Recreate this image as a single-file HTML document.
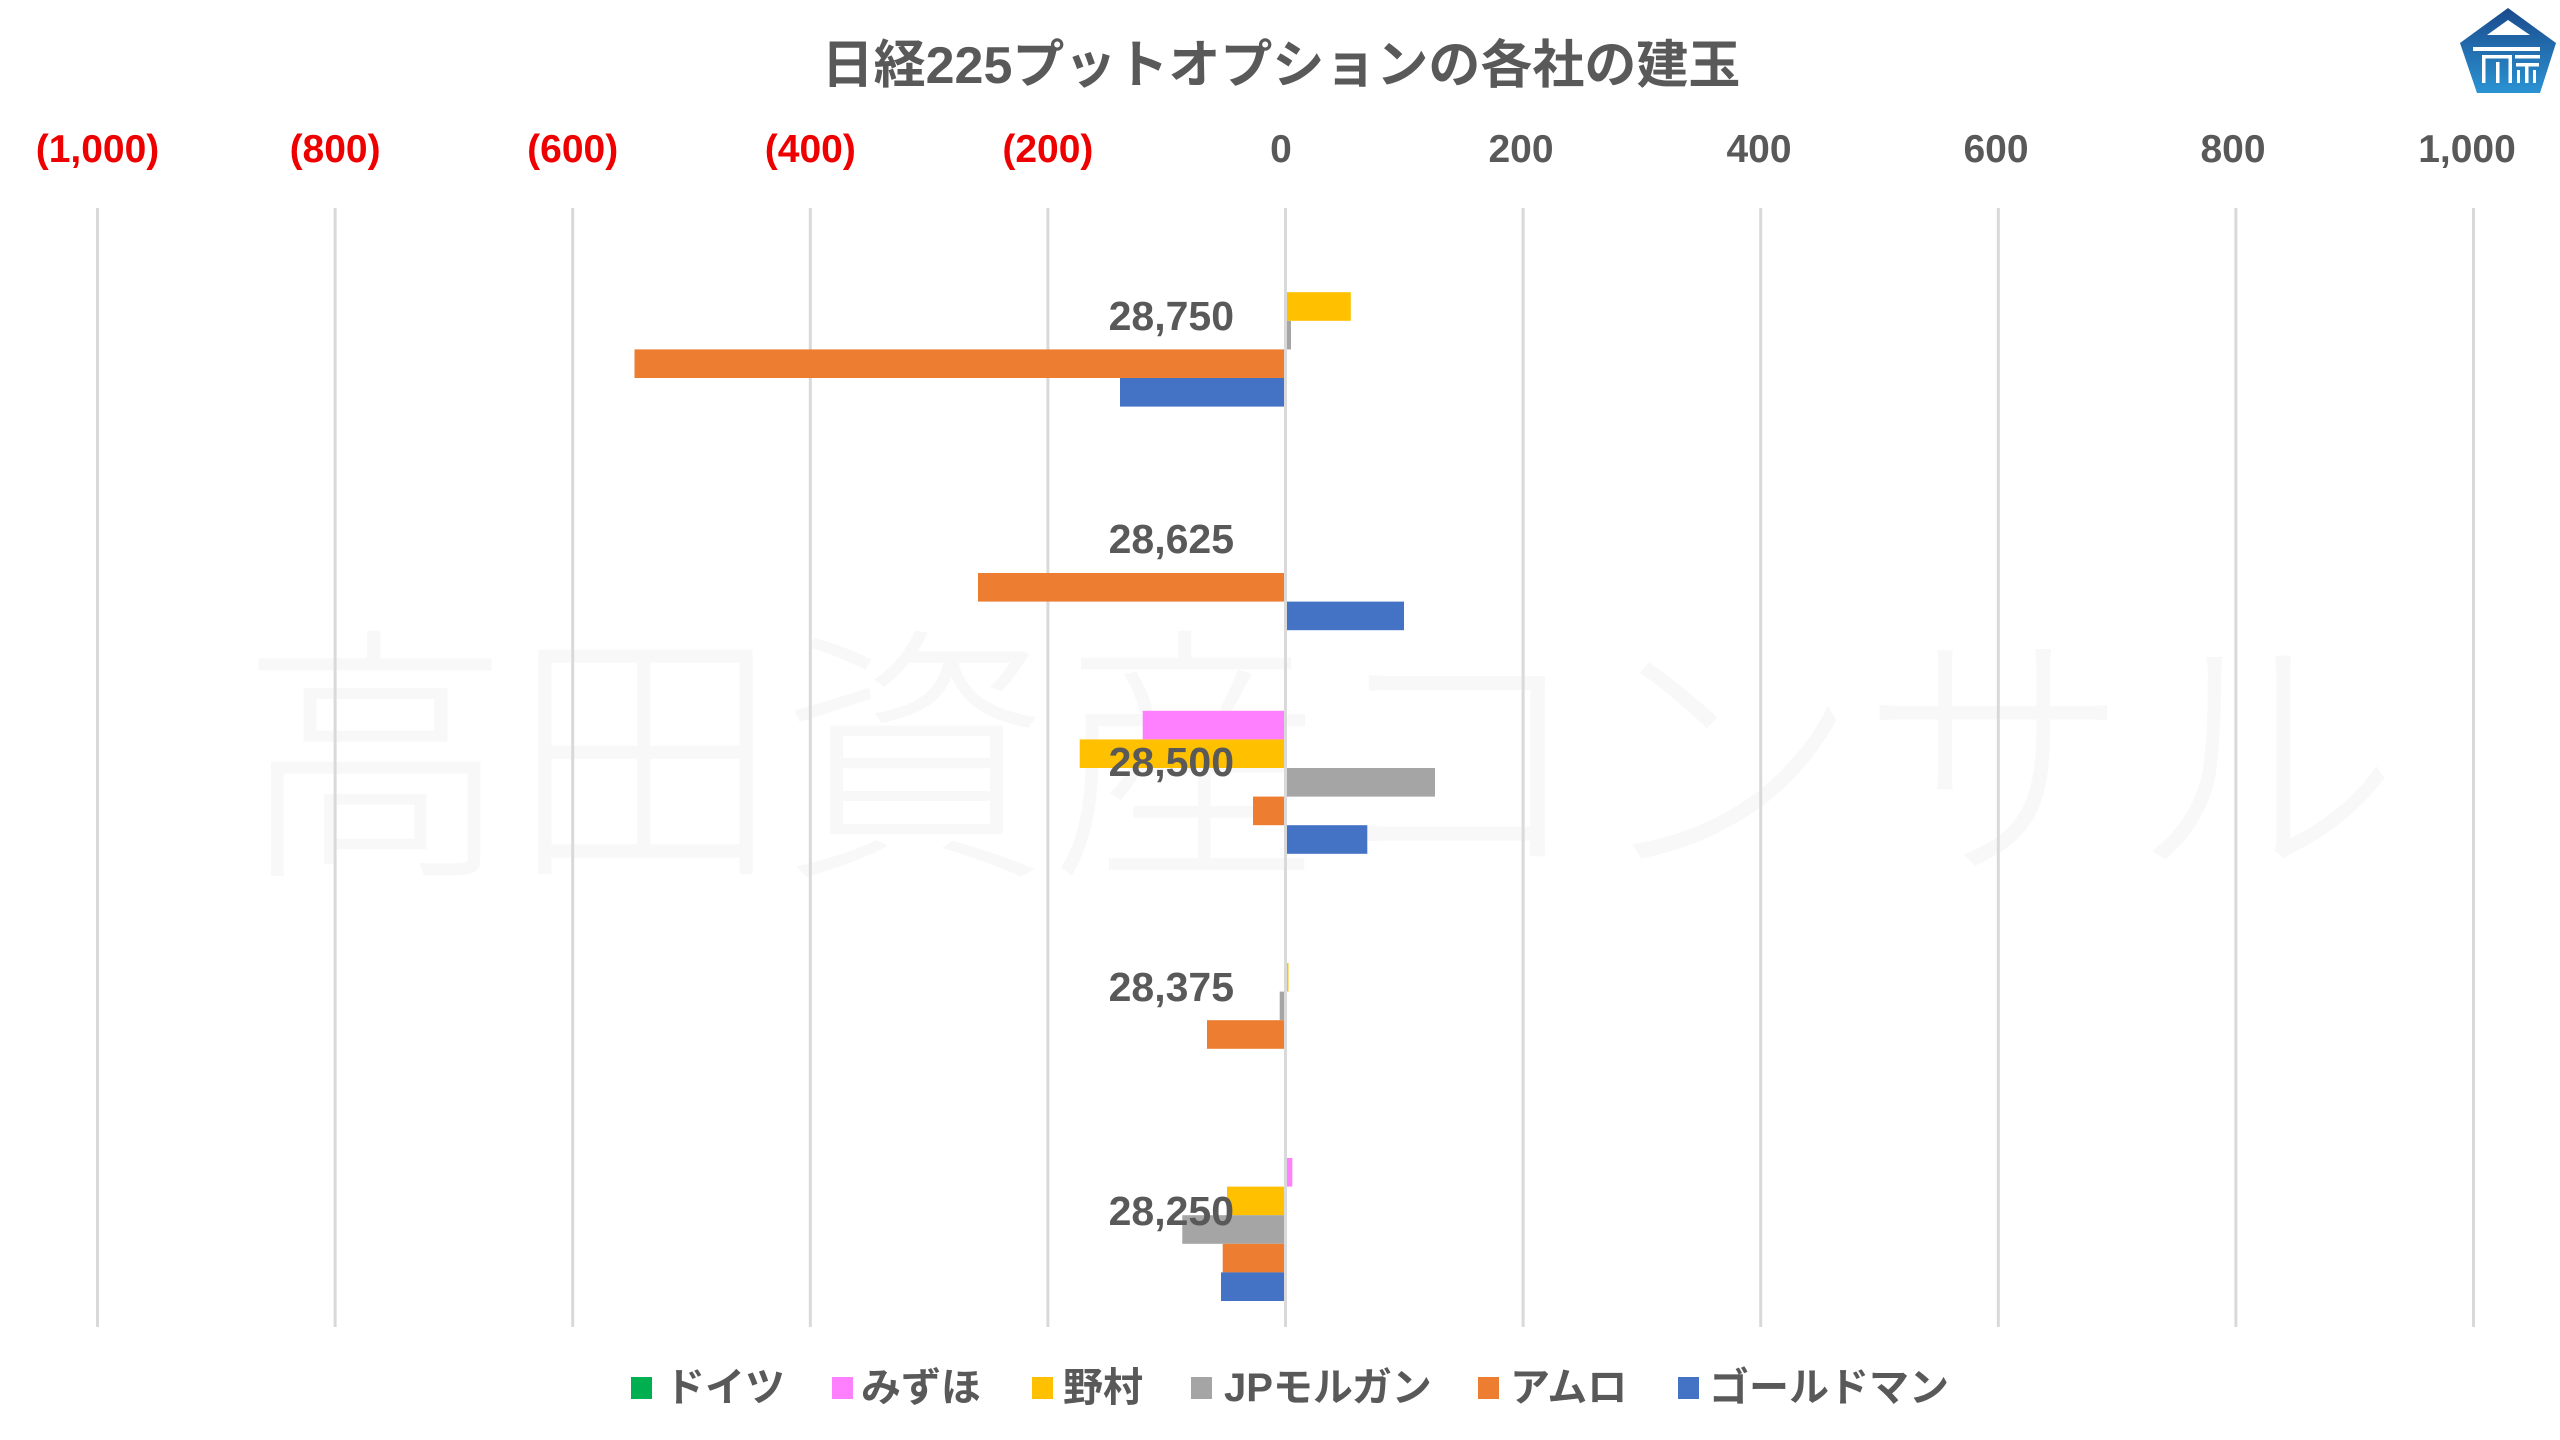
<!DOCTYPE html>
<html><head><meta charset="utf-8">
<style>
html,body{margin:0;padding:0;background:#fff;}
svg{display:block;}
text{font-family:"Liberation Sans","Noto Sans CJK JP",sans-serif;}
</style></head>
<body>
<svg width="2560" height="1440" viewBox="0 0 2560 1440" xmlns="http://www.w3.org/2000/svg">
<defs>
<linearGradient id="lg" x1="0" y1="0" x2="0" y2="1">
<stop offset="0" stop-color="#1a4a8c"/>
<stop offset="1" stop-color="#2b93d3"/>
</linearGradient>
</defs>
<rect width="2560" height="1440" fill="#fff"/>

<!-- watermark -->
<text x="240" y="856" font-size="270" font-weight="300" fill="#f8f8f8" style="font-family:'Noto Sans CJK JP',sans-serif">高田資産コンサル</text>

<!-- gridlines -->
<g stroke="#d9d9d9" stroke-width="3">
<line x1="97.5" y1="208" x2="97.5" y2="1327"/>
<line x1="335.1" y1="208" x2="335.1" y2="1327"/>
<line x1="572.7" y1="208" x2="572.7" y2="1327"/>
<line x1="810.3" y1="208" x2="810.3" y2="1327"/>
<line x1="1047.9" y1="208" x2="1047.9" y2="1327"/>
<line x1="1523.1" y1="208" x2="1523.1" y2="1327"/>
<line x1="1760.7" y1="208" x2="1760.7" y2="1327"/>
<line x1="1998.3" y1="208" x2="1998.3" y2="1327"/>
<line x1="2235.9" y1="208" x2="2235.9" y2="1327"/>
<line x1="2473.5" y1="208" x2="2473.5" y2="1327"/>
</g>

<!-- bars -->
<!-- 28,750 -->
<rect x="1285.5" y="292.2" width="65.3" height="28.6" fill="#FFC000"/>
<rect x="1285.5" y="320.8" width="5.5" height="28.6" fill="#A5A5A5"/>
<rect x="634.5" y="349.4" width="651" height="28.6" fill="#ED7D31"/>
<rect x="1120" y="378" width="165.5" height="28.6" fill="#4472C4"/>
<!-- 28,625 -->
<rect x="978" y="573" width="307.5" height="28.6" fill="#ED7D31"/>
<rect x="1285.5" y="601.6" width="118.5" height="28.6" fill="#4472C4"/>
<!-- 28,500 -->
<rect x="1142.7" y="710.8" width="142.8" height="28.6" fill="#FF80FF"/>
<rect x="1079.7" y="739.4" width="205.8" height="28.6" fill="#FFC000"/>
<rect x="1285.5" y="768" width="149.5" height="28.6" fill="#A5A5A5"/>
<rect x="1253" y="796.6" width="32.5" height="28.6" fill="#ED7D31"/>
<rect x="1285.5" y="825.2" width="81.8" height="28.6" fill="#4472C4"/>
<!-- 28,375 -->
<rect x="1285.5" y="963" width="3" height="28.6" fill="#FFC000"/>
<rect x="1279.7" y="991.6" width="5.8" height="28.6" fill="#A5A5A5"/>
<rect x="1207" y="1020.2" width="78.5" height="28.6" fill="#ED7D31"/>
<!-- 28,250 -->
<rect x="1285.5" y="1158" width="6.8" height="28.6" fill="#FF80FF"/>
<rect x="1227" y="1186.6" width="58.5" height="28.6" fill="#FFC000"/>
<rect x="1182.3" y="1215.2" width="103.2" height="28.6" fill="#A5A5A5"/>
<rect x="1222.7" y="1243.8" width="62.8" height="28.6" fill="#ED7D31"/>
<rect x="1221" y="1272.4" width="64.5" height="28.6" fill="#4472C4"/>

<!-- zero axis -->
<line x1="1285.5" y1="208" x2="1285.5" y2="1327" stroke="#d9d9d9" stroke-width="3"/>

<!-- title -->
<text x="1281" y="83" font-size="52" font-weight="bold" fill="#595959" text-anchor="middle">日経225プットオプションの各社の建玉</text>

<!-- tick labels -->
<g font-size="39" font-weight="bold" text-anchor="middle">
<text x="97.5" y="162" fill="#ee0000">(1,000)</text>
<text x="335.1" y="162" fill="#ee0000">(800)</text>
<text x="572.7" y="162" fill="#ee0000">(600)</text>
<text x="810.3" y="162" fill="#ee0000">(400)</text>
<text x="1047.9" y="162" fill="#ee0000">(200)</text>
<text x="1281" y="162" fill="#595959">0</text>
<text x="1521" y="162" fill="#595959">200</text>
<text x="1759" y="162" fill="#595959">400</text>
<text x="1996" y="162" fill="#595959">600</text>
<text x="2233" y="162" fill="#595959">800</text>
<text x="2467" y="162" fill="#595959">1,000</text>
</g>

<!-- category labels -->
<g font-size="41" font-weight="bold" fill="#595959" text-anchor="end">
<text x="1234" y="330">28,750</text>
<text x="1234" y="553">28,625</text>
<text x="1234" y="776">28,500</text>
<text x="1234" y="1001">28,375</text>
<text x="1234" y="1225">28,250</text>
</g>

<!-- legend -->
<rect x="631" y="1377" width="21" height="22" fill="#00B050"/>
<rect x="832" y="1377" width="21" height="22" fill="#FF80FF"/>
<rect x="1032" y="1377" width="21" height="22" fill="#FFC000"/>
<rect x="1191" y="1377" width="21" height="22" fill="#A5A5A5"/>
<rect x="1478" y="1377" width="21" height="22" fill="#ED7D31"/>
<rect x="1678" y="1377" width="21" height="22" fill="#4472C4"/>
<g font-size="40" font-weight="bold" fill="#595959">
<text x="665" y="1401">ドイツ</text>
<text x="861" y="1401">みずほ</text>
<text x="1063" y="1401">野村</text>
<text x="1224" y="1401">JPモルガン</text>
<text x="1510" y="1401">アムロ</text>
<text x="1709" y="1401">ゴールドマン</text>
</g>

<!-- logo -->
<polygon points="2508,8 2556,43 2540,93 2477,93 2460,43" fill="url(#lg)"/>
<polygon points="2487,35 2508,20 2530,35" fill="#fff"/>
<rect x="2473" y="47" width="67" height="4" fill="#fff"/>
<rect x="2482" y="55" width="30" height="3.5" fill="#fff"/>
<rect x="2482" y="55" width="3.5" height="28" fill="#fff"/>
<rect x="2496" y="62" width="3.5" height="21" fill="#fff"/>
<rect x="2508.5" y="55" width="3.5" height="28" fill="#fff"/>
<rect x="2515" y="55" width="25" height="3.5" fill="#fff"/>
<rect x="2516" y="63" width="23" height="3.5" fill="#fff"/>
<rect x="2525" y="63" width="3.5" height="20" fill="#fff"/>
<rect x="2517" y="70" width="3" height="13" fill="#fff"/>
<rect x="2533" y="70" width="3" height="13" fill="#fff"/>
</svg>
</body></html>
